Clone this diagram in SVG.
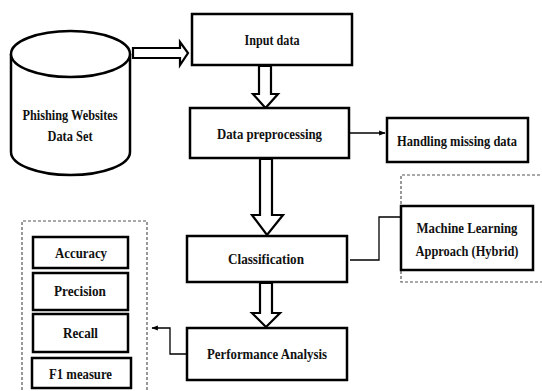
<svg xmlns="http://www.w3.org/2000/svg" width="542" height="391" viewBox="0 0 542 391">
<style>
.box{fill:#fff;stroke:#000;stroke-width:2.5}
.t{font-family:"Liberation Serif","Times New Roman",serif;font-weight:bold;font-size:15px;fill:#111;text-anchor:middle}
.ln{fill:none;stroke:#000;stroke-width:1.3}
.big{fill:#fff;stroke:#000;stroke-width:2.2;stroke-linejoin:miter}
.dash{fill:none;stroke:#555;stroke-width:1.2;stroke-dasharray:3,2}
</style>
<defs>
<marker id="ah" viewBox="0 0 10 10" refX="9" refY="5" markerWidth="5" markerHeight="5" orient="auto">
<path d="M0,1 L10,5 L0,9 Z" fill="#000"/>
</marker>
</defs>
<g id="containers">
<path class="dash" d="M545,175 H401 V282 H545"/>
<path class="dash" d="M22,395 V221 H147 V395"/>
</g>
<g id="connectors">
<path class="big" d="M133,48 H180 V42 L188,53 L180,65 V58 H133 Z"/>
<path class="big" d="M259,66 V94 H253 L265.5,108 L278,94 H271 V66 Z"/>
<path class="big" d="M260,159 V215 H252 L267,235 L283,215 H272 V159 Z"/>
<path class="big" d="M260,283 V313 H252 L266,327 L280,313 H272 V283 Z"/>
<path class="ln" d="M350,133 H385" marker-end="url(#ah)"/>
<path class="ln" d="M350,260 H379 V217 H401"/>
<path class="ln" d="M187,354 H170 V328 H152" marker-end="url(#ah)"/>
</g>
<g id="dataset">
<path d="M11,54 V152 A59.5,23 0 0 0 130,152 V54" fill="#fff" stroke="#000" stroke-width="2.5"/>
<ellipse cx="70.5" cy="54" rx="59.5" ry="23" fill="#fff" stroke="#000" stroke-width="2.5"/>
<text class="t" x="70" y="120" textLength="95" lengthAdjust="spacingAndGlyphs">Phishing Websites</text>
<text class="t" x="70" y="141" textLength="45" lengthAdjust="spacingAndGlyphs">Data Set</text>
</g>
<g id="input">
<rect class="box" x="192" y="14" width="160" height="51"/>
<text class="t" x="272" y="45" textLength="55" lengthAdjust="spacingAndGlyphs">Input data</text>
</g>
<g id="preprocessing">
<rect class="box" x="190" y="108" width="159" height="50"/>
<text class="t" x="269.5" y="139" textLength="105" lengthAdjust="spacingAndGlyphs">Data preprocessing</text>
</g>
<g id="missing">
<rect class="box" x="387" y="118" width="141" height="44"/>
<text class="t" x="457" y="146" textLength="120" lengthAdjust="spacingAndGlyphs">Handling missing data</text>
</g>
<g id="ml">
<rect class="box" x="401" y="206" width="132" height="64"/>
<text class="t" x="467" y="233" textLength="101" lengthAdjust="spacingAndGlyphs">Machine Learning</text>
<text class="t" x="467" y="256" textLength="103" lengthAdjust="spacingAndGlyphs">Approach (Hybrid)</text>
</g>
<g id="classification">
<rect class="box" x="187" y="236" width="160" height="46"/>
<text class="t" x="266" y="264" textLength="76" lengthAdjust="spacingAndGlyphs">Classification</text>
</g>
<g id="performance">
<rect class="box" x="187" y="328" width="160" height="52"/>
<text class="t" x="267" y="359" textLength="120" lengthAdjust="spacingAndGlyphs">Performance Analysis</text>
</g>
<g id="accuracy">
<rect class="box" x="33" y="237" width="95" height="31"/>
<text class="t" x="81" y="258" textLength="52" lengthAdjust="spacingAndGlyphs">Accuracy</text>
</g>
<g id="precision">
<rect class="box" x="33" y="273" width="95" height="37"/>
<text class="t" x="80" y="296" textLength="52" lengthAdjust="spacingAndGlyphs">Precision</text>
</g>
<g id="recall">
<rect class="box" x="33" y="314" width="95" height="38"/>
<text class="t" x="80.5" y="338" textLength="35" lengthAdjust="spacingAndGlyphs">Recall</text>
</g>
<g id="f1">
<rect class="box" x="32" y="358" width="99" height="30"/>
<text class="t" x="80.5" y="379" textLength="63" lengthAdjust="spacingAndGlyphs">F1 measure</text>
</g>
</svg>
